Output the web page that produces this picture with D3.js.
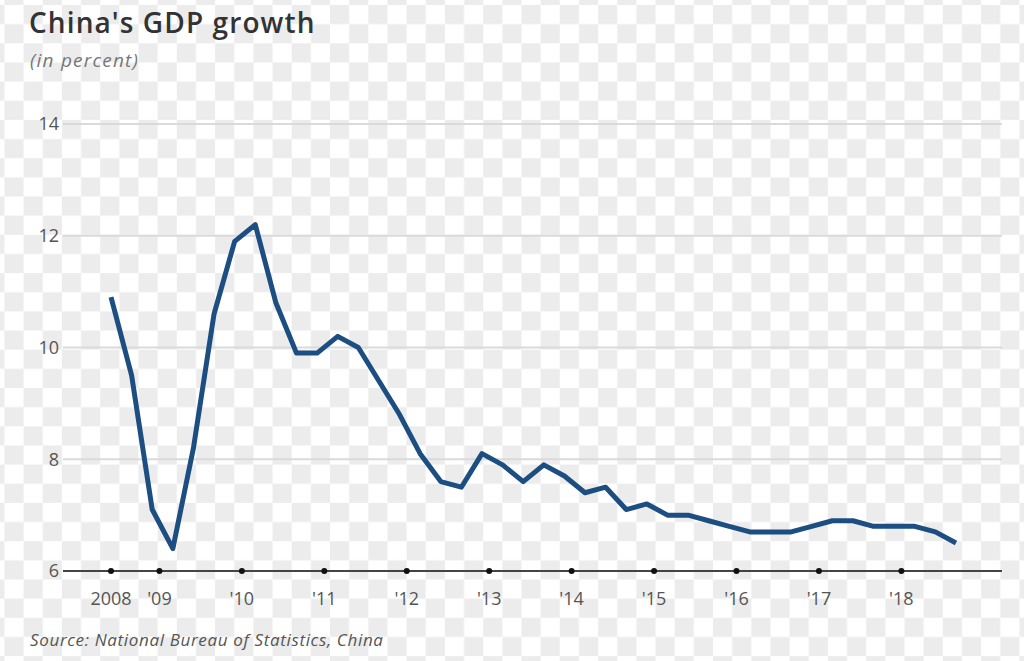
<!DOCTYPE html>
<html lang="en">
<head>
    <meta charset="UTF-8">
    <title>China's GDP growth</title>
    <script src="https://d3js.org/d3.v7.min.js"></script>
    <style>
        body { margin: 0; background: #fff; }
        text { font-family: "Open Sans", Lato, sans-serif; }
    </style>
</head>
<body>
    <div id="chart"></div>

    <script>
        // Quarterly GDP growth, 2008 Q2 .. 2018 Q3 (percent, y/y)
        const quarters = [
            "2008Q2", "2008Q3", "2008Q4",
            "2009Q1", "2009Q2", "2009Q3", "2009Q4",
            "2010Q1", "2010Q2", "2010Q3", "2010Q4",
            "2011Q1", "2011Q2", "2011Q3", "2011Q4",
            "2012Q1", "2012Q2", "2012Q3", "2012Q4",
            "2013Q1", "2013Q2", "2013Q3", "2013Q4",
            "2014Q1", "2014Q2", "2014Q3", "2014Q4",
            "2015Q1", "2015Q2", "2015Q3", "2015Q4",
            "2016Q1", "2016Q2", "2016Q3", "2016Q4",
            "2017Q1", "2017Q2", "2017Q3", "2017Q4",
            "2018Q1", "2018Q2", "2018Q3"
        ];
        const growth = [
            10.9, 9.5, 7.1,
            6.4, 8.2, 10.6, 11.9,
            12.2, 10.8, 9.9, 9.9,
            10.2, 10.0, 9.4, 8.8,
            8.1, 7.6, 7.5, 8.1,
            7.9, 7.6, 7.9, 7.7,
            7.4, 7.5, 7.1, 7.2,
            7.0, 7.0, 6.9, 6.8,
            6.7, 6.7, 6.7, 6.8,
            6.9, 6.9, 6.8, 6.8,
            6.8, 6.7, 6.5
        ];

        // x tick labels and where they sit (in quarter-index units)
        const yearLabels = ["2008", "'09", "'10", "'11", "'12", "'13", "'14", "'15", "'16", "'17", "'18"];
        const yearTickPos = [0, 2.35, 6.35, 10.35, 14.35, 18.35, 22.35, 26.35, 30.35, 34.35, 38.35];
        const yTicks = [6, 8, 10, 12, 14];

        const width = 1024, height = 661;
        const plotLeft = 63, plotRight = 1002;

        const svg = d3.select("#chart")
            .append("svg")
            .attr("width", width)
            .attr("height", height);

        // checkered background (the source image was a transparent png)
        const sq = 19.15;
        const pat = svg.append("defs").append("pattern")
            .attr("id", "checker")
            .attr("patternUnits", "userSpaceOnUse")
            .attr("width", sq * 2)
            .attr("height", sq * 2)
            .attr("patternTransform", "translate(23.6,5)");
        pat.append("rect").attr("width", sq * 2).attr("height", sq * 2).attr("fill", "#ffffff");
        pat.append("rect").attr("width", sq).attr("height", sq).attr("fill", "#ececec");
        pat.append("rect").attr("x", sq).attr("y", sq).attr("width", sq).attr("height", sq).attr("fill", "#ececec");

        svg.append("rect")
            .attr("width", width)
            .attr("height", height)
            .attr("fill", "url(#checker)");

        const x = d3.scaleLinear()
            .domain([0, quarters.length - 1])
            .range([111, 956]);

        const y = d3.scaleLinear()
            .domain([6, 14])
            .range([571, 124]);

        // gridlines
        svg.append("g")
            .selectAll("line")
            .data(yTicks.filter(d => d > 6))
            .join("line")
            .attr("x1", plotLeft)
            .attr("x2", plotRight)
            .attr("y1", d => y(d))
            .attr("y2", d => y(d))
            .attr("stroke", "#dadada")
            .attr("stroke-width", 2);

        // y labels
        svg.append("g")
            .selectAll("text")
            .data(yTicks)
            .join("text")
            .attr("x", 59)
            .attr("y", d => y(d))
            .attr("dy", "0.36em")
            .attr("text-anchor", "end")
            .attr("font-size", 18)
            .attr("fill", "#555")
            .text(d => d);

        // baseline axis
        svg.append("line")
            .attr("x1", plotLeft)
            .attr("x2", plotRight)
            .attr("y1", y(6))
            .attr("y2", y(6))
            .attr("stroke", "#444")
            .attr("stroke-width", 2);

        // tick dots + year labels
        svg.append("g")
            .selectAll("circle")
            .data(yearTickPos)
            .join("circle")
            .attr("cx", d => x(d))
            .attr("cy", y(6))
            .attr("r", 3)
            .attr("fill", "#111");

        svg.append("g")
            .selectAll("text")
            .data(yearLabels)
            .join("text")
            .attr("x", (d, i) => x(yearTickPos[i]))
            .attr("y", 605)
            .attr("text-anchor", "middle")
            .attr("font-size", 18)
            .attr("fill", "#555")
            .text(d => d);

        // the line
        const line = d3.line()
            .x((d, i) => x(i))
            .y(d => y(d));

        svg.append("path")
            .datum(growth)
            .attr("fill", "none")
            .attr("stroke", "#1d4e82")
            .attr("stroke-width", 5)
            .attr("stroke-linejoin", "round")
            .attr("d", line);

        // titles
        svg.append("text")
            .attr("x", 29)
            .attr("y", 33)
            .attr("font-size", 28)
            .attr("font-weight", 600)
            .attr("letter-spacing", 1.1)
            .attr("fill", "#333")
            .text("China's GDP growth");

        svg.append("text")
            .attr("x", 30)
            .attr("y", 67)
            .attr("font-size", 19)
            .attr("font-style", "italic")
            .attr("letter-spacing", 1.2)
            .attr("fill", "#777")
            .text("(in percent)");

        svg.append("text")
            .attr("x", 30)
            .attr("y", 646)
            .attr("font-size", 17)
            .attr("font-style", "italic")
            .attr("letter-spacing", 0.65)
            .attr("fill", "#555")
            .text("Source: National Bureau of Statistics, China");
    </script>
</body>
</html>
